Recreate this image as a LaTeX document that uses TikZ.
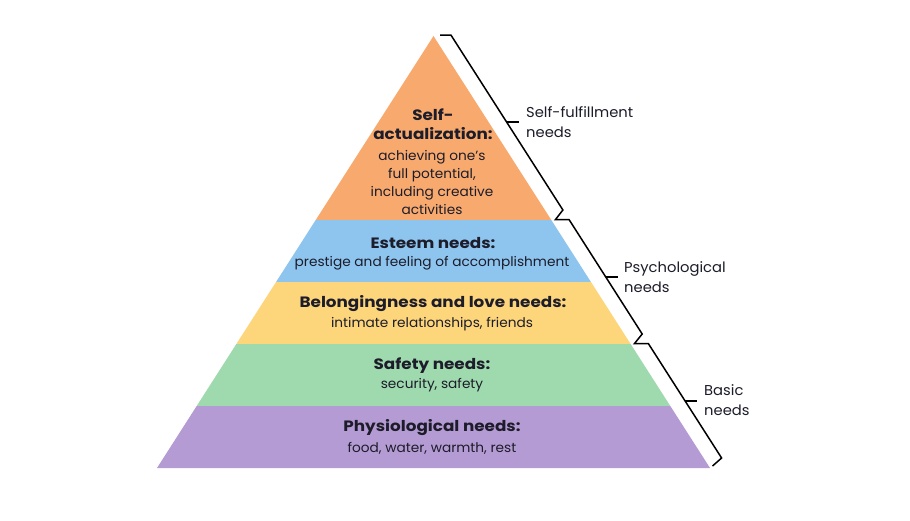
\documentclass[tikz,border=0pt]{standalone}
\usepackage{fontspec}
\setmainfont{Poppins}
\newfontfamily\regf{Poppins}[FakeStretch=1.03]
\newfontfamily\boldf{Poppins}[FakeStretch=1.12]
\begin{document}
\begin{tikzpicture}[x=1pt,y=-1pt,
  layertitle/.style={font=\boldf\bfseries\fontsize{15}{19}\selectfont, text=inkc, align=center, inner sep=0pt},
  layerbody/.style={font=\regf\fontsize{13.3}{18}\selectfont, text=inkc, align=center, inner sep=0pt},
  sidelabel/.style={font=\regf\fontsize{14.3}{20.5}\selectfont, text=inkc, align=left, anchor=west, inner sep=0pt},
  bracel/.style={draw=black, line width=1.5pt, line join=miter}]
\definecolor{inkc}{HTML}{1C1C2A}
\definecolor{orangec}{HTML}{F8AA6E}
\definecolor{bluec}{HTML}{8EC5EE}
\definecolor{yellowc}{HTML}{FDD57A}
\definecolor{greenc}{HTML}{9FDAAE}
\definecolor{purplec}{HTML}{B59BD3}
\useasboundingbox (0,0) rectangle (910,520);
\fill[white] (0,0) rectangle (910,520);
% layers
\fill[orangec] (433.5,36) -- (551.3,220) -- (315.7,220) -- cycle;
\fill[bluec] (315.7,220) -- (551.3,220) -- (590.95,282) -- (276.05,282) -- cycle;
\fill[yellowc] (276.05,282) -- (590.95,282) -- (630.64,344) -- (236.36,344) -- cycle;
\fill[greenc] (236.36,344) -- (630.64,344) -- (670.32,406) -- (196.68,406) -- cycle;
\fill[purplec] (196.68,406) -- (670.32,406) -- (710,468) -- (157,468) -- cycle;
% texts
\node[layertitle] (selft) at (433,124.5) {Self-\\actualization:};
\node[layerbody] (selfb) at (432,182) {achieving one’s\\full potential,\\including creative\\activities};
\node[layertitle] (estt) at (433,243) {Esteem needs:};
\node[layerbody] (estb) at (432,263) {prestige and feeling of accomplishment};
\node[layertitle] (belt) at (433,304) {Belongingness and love needs:};
\node[layerbody] (belb) at (432,324) {intimate relationships, friends};
\node[layertitle] (saft) at (432,366) {Safety needs:};
\node[layerbody] (safb) at (432,385) {security, safety};
\node[layertitle] (phyt) at (432,428) {Physiological needs:};
\node[layerbody] (phyb) at (432,448) {food, water, warmth, rest};
% side labels
\node[sidelabel] (lself) at (526,122) {Self-fulfillment\\needs};
\node[sidelabel] (lpsy) at (624,277) {Psychological\\needs};
\node[sidelabel] (lbas) at (704,400) {Basic\\needs};
% braces
\coordinate (b1s) at (440,35);
\coordinate (b1m) at (506.5,122);
\coordinate (h1) at (555.5,219.5);
\coordinate (b2m) at (605.7,277);
\coordinate (h2) at (634.5,343.5);
\coordinate (b3m) at (685.1,401);
\coordinate (h3) at (712.5,466);
\draw[bracel] (b1s) -- (450.9,35) -- (562.9,210) -- (h1) -- (569,219.5) -- (642.2,334) -- (h2) -- (648.3,343.5) -- (721.6,458) -- (h3);
\draw[bracel] (b1m) -- ++(12,0);
\draw[bracel] (b2m) -- ++(12,0);
\draw[bracel] (b3m) -- ++(12,0);
\end{tikzpicture}
\end{document}
